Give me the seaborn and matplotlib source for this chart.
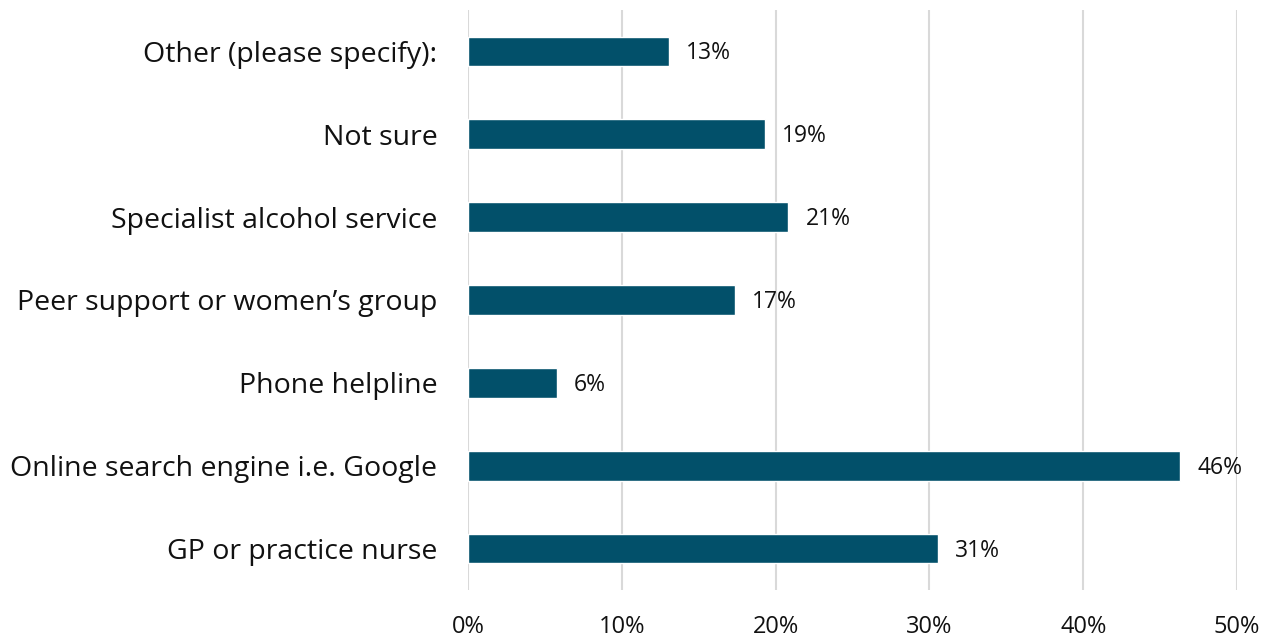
import matplotlib
matplotlib.use("Agg")
import matplotlib.pyplot as plt
import seaborn as sns
import pandas as pd

# Survey responses: where respondents would look for help
categories = [
    "Other (please specify):",
    "Not sure",
    "Specialist alcohol service",
    "Peer support or women\u2019s group",
    "Phone helpline",
    "Online search engine i.e. Google",
    "GP or practice nurse",
]
shares = [13.07, 19.3, 20.83, 17.35, 5.77, 46.31, 30.55]
x_ticks = [0, 10, 20, 30, 40, 50]
x_tick_labels = ["0%", "10%", "20%", "30%", "40%", "50%"]

bar_color = "#02506A"
text_color = "#111111"
df = pd.DataFrame({"category": categories, "share": shares})

sns.set_theme(style="white")
plt.rcParams["font.family"] = ["Open Sans", "DejaVu Sans"]

fig = plt.figure(figsize=(12.77, 6.41), dpi=100)
ax = fig.add_axes([0.3665, 0.0796, 0.6022, 0.9048])

sns.barplot(data=df, x="share", y="category", color=bar_color, width=0.36,
            saturation=1, ax=ax, orient="h")

ax.set_xlim(0, 50)
ax.set_ylim(6.5, -0.5)
ax.set_xticks(x_ticks)
ax.set_xticklabels(x_tick_labels, fontsize=17, color=text_color)
ax.tick_params(axis="y", labelsize=20.5, pad=22, length=0, labelcolor=text_color)
ax.tick_params(axis="x", pad=18, length=0)
ax.set_xlabel("")
ax.set_ylabel("")

ax.grid(axis="x", color="#D9D9D9", linewidth=1.5)
ax.set_axisbelow(True)
for s in ax.spines.values():
    s.set_visible(False)

# value labels next to each bar
for i, v in enumerate(shares):
    ax.annotate(f"{round(v):d}%", xy=(v, i), xytext=(17, -2),
                textcoords="offset pixels",
                va="center", ha="left", fontsize=16.5, color=text_color)

fig.savefig("out.png", dpi=100)
